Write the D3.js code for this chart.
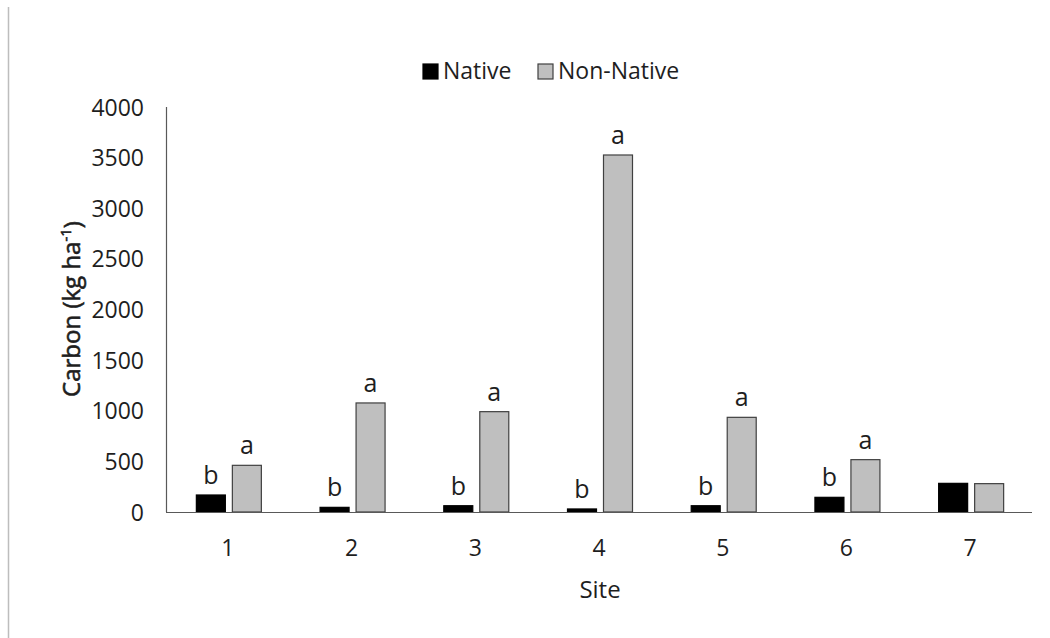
<!DOCTYPE html>
<html>
<head>
<meta charset="utf-8">
<script src="https://cdn.jsdelivr.net/npm/d3@7"></script>
<style>
  html, body { margin: 0; padding: 0; background: #fff; }
  svg { display: block; font-family: "Open Sans", "Noto Sans", sans-serif; }
</style>
</head>
<body>
<svg id="chart" width="1050" height="638"></svg>
<script>
const sites = ["1", "2", "3", "4", "5", "6", "7"];
const seriesNames = ["Native", "Non-Native"];
const nativeValues = [168, 46, 62, 30, 62, 145, 283];
const nonNativeValues = [461, 1077, 991, 3526, 935, 517, 280];
const nativeLetters = ["b", "b", "b", "b", "b", "b", ""];
const nonNativeLetters = ["a", "a", "a", "a", "a", "a", ""];
const yTicks = [0, 500, 1000, 1500, 2000, 2500, 3000, 3500, 4000];
const seriesColors = ["#000000", "#bfbfbf"];

const textColor = "#1e1e1e";
const svg = d3.select("#chart");
const margin = { left: 166, right: 1032, top: 107, bottom: 512 };

// Left grey frame line
svg.append("line")
  .attr("x1", 8.5).attr("x2", 8.5).attr("y1", 7).attr("y2", 638)
  .attr("stroke", "#bdbdbd").attr("stroke-width", 1.5);

const x0 = d3.scaleBand().domain(sites).range([margin.left, margin.right]).padding(0);
const groupW = 65;
const x1 = d3.scaleBand().domain(seriesNames).range([0, groupW]).paddingInner(7 / 36).paddingOuter(0);
const y = d3.scaleLinear().domain([0, 4000]).range([margin.bottom, margin.top]);

// Y axis
const yAxis = d3.axisLeft(y).tickValues(yTicks).tickSize(0).tickPadding(0).tickFormat(d3.format("d"));
const gy = svg.append("g").attr("transform", `translate(${margin.left},0)`).call(yAxis);
gy.select(".domain").remove();
gy.selectAll("text")
  .attr("x", -22)
  .attr("dy", "0.35em")
  .attr("font-size", 23)
  .attr("font-family", "'Open Sans', sans-serif")
  .attr("fill", textColor);
svg.append("line")
  .attr("x1", margin.left + 0.5).attr("x2", margin.left + 0.5)
  .attr("y1", margin.top).attr("y2", margin.bottom)
  .attr("stroke", "#595959").attr("stroke-width", 1.2);

// Bars
const data = sites.map((s, i) => ({
  site: s,
  vals: [
    { key: "Native", v: nativeValues[i], letter: nativeLetters[i] },
    { key: "Non-Native", v: nonNativeValues[i], letter: nonNativeLetters[i] }
  ]
}));
const off = (x0.bandwidth() - groupW) / 2 + 1;
const groups = svg.append("g").selectAll("g").data(data).join("g")
  .attr("transform", d => `translate(${x0(d.site) + off},0)`);
groups.selectAll("rect").data(d => d.vals).join("rect")
  .attr("x", d => x1(d.key))
  .attr("width", x1.bandwidth())
  .attr("y", d => y(d.v))
  .attr("height", d => y(0) - y(d.v))
  .attr("fill", (d, i) => seriesColors[i])
  .attr("stroke", (d, i) => i === 0 ? "#000" : "#404040")
  .attr("stroke-width", 1.2);
groups.selectAll("text.letter").data(d => d.vals).join("text")
  .attr("class", "letter")
  .attr("x", d => x1(d.key) + x1.bandwidth() / 2)
  .attr("y", d => y(d.v) - 11)
  .attr("text-anchor", "middle")
  .attr("font-size", 25)
  .attr("fill", textColor)
  .text(d => d.letter);

// X axis
const xAxis = d3.axisBottom(x0).tickSize(0).tickPadding(0);
const gx = svg.append("g").attr("transform", `translate(0,${margin.bottom})`).call(xAxis);
gx.select(".domain").remove();
gx.selectAll("text")
  .attr("y", 36)
  .attr("dy", "0.35em")
  .attr("font-size", 23)
  .attr("font-family", "'Open Sans', sans-serif")
  .attr("fill", textColor);
svg.append("line")
  .attr("x1", margin.left).attr("x2", margin.right)
  .attr("y1", margin.bottom + 0.5).attr("y2", margin.bottom + 0.5)
  .attr("stroke", "#595959").attr("stroke-width", 1.2);

// Axis titles
svg.append("text")
  .attr("x", 600).attr("y", 590).attr("dy", "0.35em")
  .attr("text-anchor", "middle")
  .attr("font-size", 24).attr("fill", textColor)
  .text("Site");
const yt = svg.append("text")
  .attr("transform", "translate(72,309) rotate(-90)")
  .attr("dy", "0.35em")
  .attr("text-anchor", "middle")
  .attr("font-size", 24).attr("font-weight", 400)
  .attr("fill", textColor).attr("stroke", textColor).attr("stroke-width", 0.6);
yt.append("tspan").text("Carbon (kg ha");
yt.append("tspan").attr("font-size", 15).attr("dy", "-0.6em").text("-1");
yt.append("tspan").attr("dy", "0.38em").text(")");

// Legend
const legendItems = [
  { name: "Native", sx: 423, tx: 443 },
  { name: "Non-Native", sx: 538, tx: 558 }
];
const lg = svg.append("g");
legendItems.forEach((it, i) => {
  lg.append("rect")
    .attr("x", it.sx).attr("y", 64).attr("width", 15).attr("height", 15)
    .attr("fill", seriesColors[i])
    .attr("stroke", i === 0 ? "#000" : "#404040").attr("stroke-width", 1.2);
  lg.append("text")
    .attr("x", it.tx).attr("y", 71).attr("dy", "0.35em")
    .attr("font-size", 23).attr("fill", textColor)
    .text(it.name);
});
</script>
</body>
</html>
